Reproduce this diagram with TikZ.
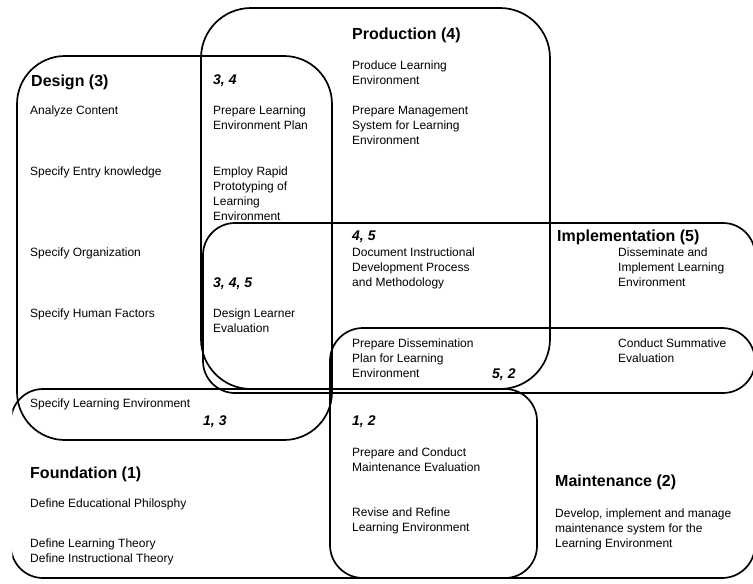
\documentclass[tikz,border=0pt]{standalone}
\usepackage{fontspec}
\setmainfont{Liberation Sans}
\begin{document}
\begin{tikzpicture}[x=1pt,y=-1pt,
  zone/.style={draw=black, line width=1.7pt},
  item/.style={anchor=north west, inner sep=0pt, align=left, font=\fontsize{12}{15}\selectfont},
  title/.style={anchor=base west, inner sep=0pt, font=\fontsize{16}{19}\selectfont\bfseries},
  tag/.style={anchor=base west, inner sep=0pt, font=\fontsize{14}{17}\selectfont\bfseries\itshape}]
\useasboundingbox (0,0) rectangle (753,584);

% domain outlines
\begin{scope}
  \clip (0,0) rectangle (753,584);
  \draw[zone, rounded corners=48] (17,56) rectangle (332,440);   % design
  \draw[zone, rounded corners=50] (201,8) rectangle (550,389);   % production
  \draw[zone, rounded corners=32] (203,223) rectangle (755,393); % implementation
  \draw[zone, rounded corners=33] (330,328) rectangle (755,578); % maintenance
\end{scope}
\begin{scope}
  \clip (12.3,0) rectangle (753,584);
  \draw[zone, rounded corners=32] (11,389) rectangle (537,578);  % foundation
\end{scope}

% design column
\node[title] (tdes) at (31,86) {Design (3)};
\node[item] (d1) at (30,103.8) {\strut Analyze Content};
\node[item] (d2) at (30,164.8) {\strut Specify Entry knowledge};
\node[item] (d3) at (30,245.8) {\strut Specify Organization};
\node[item] (d4) at (30,306.8) {\strut Specify Human Factors};
\node[item] (d5) at (30,396.8) {\strut Specify Learning Environment};
\node[tag] (t13) at (203,425) {1, 3};

% foundation
\node[title] (tfou) at (30,478) {Foundation (1)};
\node[item] (f1) at (30,496.8) {\strut Define Educational Philosphy};
\node[item] (f2) at (30,536.8) {\strut Define Learning Theory\\Define Instructional Theory};

% design / production overlap
\node[tag] (t34) at (213,84) {3, 4};
\node[item] (dp1) at (213,103.8) {\strut Prepare Learning\\Environment Plan};
\node[item] (dp2) at (213,164.8) {\strut Employ Rapid\\Prototyping of\\Learning\\Environment};
\node[tag] (t345) at (213,287) {3, 4, 5};
\node[item] (dpi1) at (213,306.8) {\strut Design Learner\\Evaluation};

% production
\node[title] (tpro) at (352,39) {Production (4)};
\node[item] (p1) at (352,58.8) {\strut Produce Learning\\Environment};
\node[item] (p2) at (352,103.8) {\strut Prepare Management\\System for Learning\\Environment};
\node[tag] (t45) at (352,240) {4, 5};
\node[item] (pi1) at (352,245.8) {\strut Document Instructional\\Development Process\\and Methodology};
\node[item] (im1) at (352,336.8) {\strut Prepare Dissemination\\Plan for Learning\\Environment};
\node[tag] (t52) at (492,378) {5, 2};

% foundation / maintenance overlap
\node[tag] (t12) at (352,425) {1, 2};
\node[item] (fm1) at (352,445.8) {\strut Prepare and Conduct\\Maintenance Evaluation};
\node[item] (fm2) at (352,505.8) {\strut Revise and Refine\\Learning Environment};

% implementation
\node[title] (timp) at (557,241) {Implementation (5)};
\node[item] (i1) at (618,245.8) {\strut Disseminate and\\Implement Learning\\Environment};
\node[item] (i2) at (618,336.8) {\strut Conduct Summative\\Evaluation};

% maintenance
\node[title] (tmai) at (555,486) {Maintenance (2)};
\node[item] (m1) at (555,506.8) {\strut Develop, implement and manage\\maintenance system for the\\Learning Environment};
\end{tikzpicture}
\end{document}
